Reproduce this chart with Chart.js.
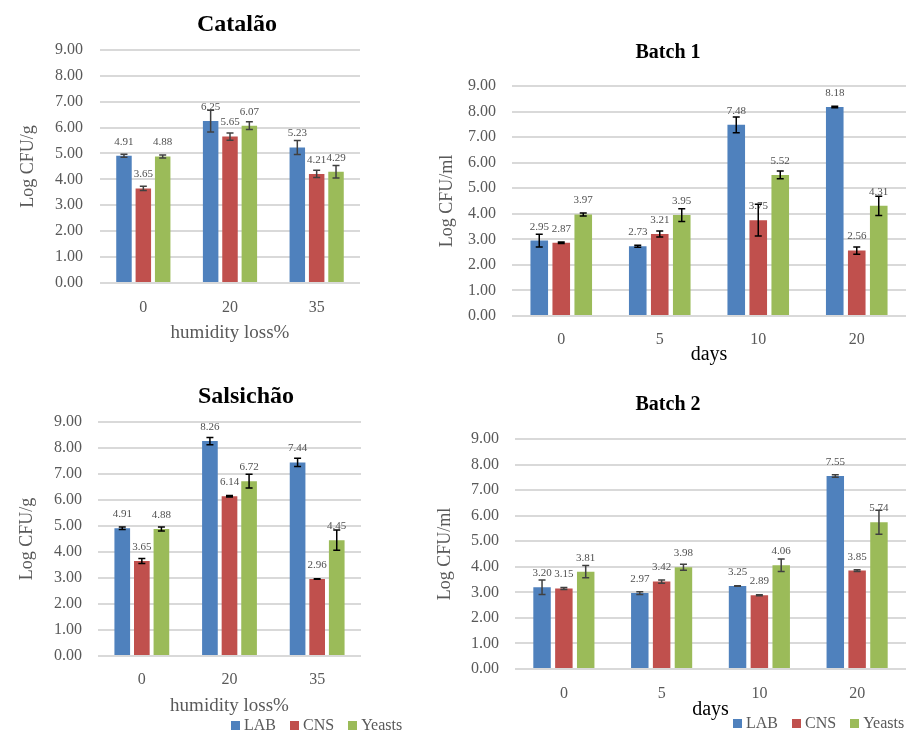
<!DOCTYPE html>
<html>
<head>
<meta charset="utf-8">
<script src="https://cdn.jsdelivr.net/npm/chart.js@4.4.0/dist/chart.umd.min.js"></script>
<style>
    html, body { margin: 0; padding: 0; background: #fff; overflow: hidden; }
    body { width: 906px; height: 731px; position: relative; }
    canvas { position: absolute; }
    .legend { position: absolute; display: flex; align-items: center; height: 16px;
              font: 16px 'Liberation Serif', serif; color: #595959; }
    .legend .item { display: flex; align-items: center; margin-right: 14px; }
    .legend .box { display: inline-block; width: 9px; height: 9px; margin-right: 4px; }
</style>
</head>
<body>
<canvas id="catalao" width="474" height="345" style="left:0;top:0"></canvas>
<canvas id="batch1" width="476" height="338" style="left:430px;top:30px"></canvas>
<canvas id="salsichao" width="492" height="358" style="left:0;top:360px"></canvas>
<canvas id="batch2" width="476" height="333" style="left:430px;top:390px"></canvas>
<div class="legend" id="legendLeft" style="left:231px;top:717px"></div>
<div class="legend" id="legendRight" style="left:733px;top:715px"></div>

<script>
// Series and categories
const seriesNames = ['LAB', 'CNS', 'Yeasts'];
const seriesColors = ['#4F81BD', '#C0504D', '#9BBB59'];
const humidityLoss = ['0', '20', '35'];
const days = ['0', '5', '10', '20'];

// Catalão (Log CFU/g)
const catalaoLab = [4.91, 6.25, 5.23];
const catalaoCns = [3.65, 5.65, 4.21];
const catalaoYeasts = [4.88, 6.07, 4.29];
const catalaoLabErr = [0.06, 0.42, 0.27];
const catalaoCnsErr = [0.08, 0.14, 0.14];
const catalaoYeastsErr = [0.06, 0.15, 0.24];

// Salsichão (Log CFU/g)
const salsichaoLab = [4.91, 8.26, 7.44];
const salsichaoCns = [3.65, 6.14, 2.96];
const salsichaoYeasts = [4.88, 6.72, 4.45];
const salsichaoLabErr = [0.05, 0.14, 0.16];
const salsichaoCnsErr = [0.1, 0.03, 0.01];
const salsichaoYeastsErr = [0.08, 0.26, 0.39];

// Batch 1 (Log CFU/ml)
const batch1Lab = [2.95, 2.73, 7.48, 8.18];
const batch1Cns = [2.87, 3.21, 3.75, 2.56];
const batch1Yeasts = [3.97, 3.95, 5.52, 4.31];
const batch1LabErr = [0.25, 0.04, 0.31, 0.03];
const batch1CnsErr = [0.03, 0.12, 0.62, 0.14];
const batch1YeastsErr = [0.06, 0.25, 0.15, 0.38];

// Batch 2 (Log CFU/ml)
const batch2Lab = [3.20, 2.97, 3.25, 7.55];
const batch2Cns = [3.15, 3.42, 2.89, 3.85];
const batch2Yeasts = [3.81, 3.98, 4.06, 5.74];
const batch2LabErr = [0.28, 0.05, 0.01, 0.05];
const batch2CnsErr = [0.04, 0.06, 0.02, 0.03];
const batch2YeastsErr = [0.24, 0.12, 0.24, 0.47];

const FONT = "'Liberation Serif', serif";
const GREY = '#595959';

// value labels above bars, then error bars on top
const errorBars = {
    id: 'errorBars',
    afterDatasetsDraw(chart, args, opts) {
        const ctx = chart.ctx;
        const yScale = chart.scales.y;
        ctx.save();
        ctx.font = '11px ' + FONT;
        ctx.fillStyle = '#505050';
        ctx.textAlign = 'center';
        ctx.textBaseline = 'middle';
        chart.data.datasets.forEach((ds, i) => {
            chart.getDatasetMeta(i).data.forEach((bar, j) => {
                ctx.fillText(ds.data[j].toFixed(2), bar.x, bar.y - 14);
            });
        });
        ctx.strokeStyle = opts.color;
        ctx.lineWidth = 1.5;
        chart.data.datasets.forEach((ds, i) => {
            chart.getDatasetMeta(i).data.forEach((bar, j) => {
                const top = yScale.getPixelForValue(ds.data[j] + ds.errors[j]);
                const bot = yScale.getPixelForValue(ds.data[j] - ds.errors[j]);
                ctx.beginPath();
                ctx.moveTo(bar.x, top); ctx.lineTo(bar.x, bot);
                ctx.moveTo(bar.x - 3.5, top); ctx.lineTo(bar.x + 3.5, top);
                ctx.moveTo(bar.x - 3.5, bot); ctx.lineTo(bar.x + 3.5, bot);
                ctx.stroke();
            });
        });
        ctx.restore();
    }
};

function barChart(id, cfg) {
    return new Chart(document.getElementById(id), {
        type: 'bar',
        data: {
            labels: cfg.labels,
            datasets: seriesNames.map((name, i) => ({
                label: name,
                data: cfg.values[i],
                errors: cfg.errors[i],
                backgroundColor: seriesColors[i],
                categoryPercentage: 0.67,
                barPercentage: 0.8
            }))
        },
        options: {
            responsive: false,
            animation: false,
            layout: { padding: 0 },
            plugins: {
                legend: { display: false },
                tooltip: { enabled: false },
                title: {
                    display: true,
                    text: cfg.title,
                    color: '#000',
                    font: { family: FONT, size: cfg.titleSize, weight: 'bold' },
                    padding: { top: cfg.titleTop, bottom: cfg.titleBottom }
                },
                errorBars: { color: cfg.errColor }
            },
            scales: {
                x: {
                    grid: { display: false },
                    border: { display: false },
                    ticks: { color: GREY, padding: cfg.xTickPad, font: { family: FONT, size: 16 } },
                    title: {
                        display: true, text: cfg.xTitle, color: cfg.xTitleColor,
                        font: { family: FONT, size: cfg.xTitleSize },
                        padding: { top: 0, bottom: 1 }
                    },
                    afterFit: s => { s.height = cfg.xHeight; }
                },
                y: {
                    min: 0,
                    max: 9,
                    grid: { color: '#d9d9d9', lineWidth: 2, drawTicks: false },
                    border: { display: false },
                    ticks: {
                        stepSize: 1, color: GREY, padding: cfg.yTickPad,
                        font: { family: FONT, size: 16 },
                        callback: v => v.toFixed(2)
                    },
                    title: {
                        display: true, text: cfg.yTitle, color: GREY,
                        font: { family: FONT, size: 18 },
                        padding: { top: cfg.yTitlePad, bottom: 0 }
                    },
                    afterFit: s => { s.width = cfg.yWidth; }
                },
                r: {
                    position: 'right',
                    display: true,
                    grid: { display: false },
                    border: { display: false },
                    ticks: { display: false },
                    afterFit: s => { s.width = cfg.rightSpace; }
                }
            }
        },
        plugins: [errorBars]
    });
}

const catalaoChart = barChart('catalao', {
    labels: humidityLoss,
    values: [catalaoLab, catalaoCns, catalaoYeasts],
    errors: [catalaoLabErr, catalaoCnsErr, catalaoYeastsErr],
    title: 'Catalão', titleSize: 24, titleTop: 10, titleBottom: 11,
    yTitle: 'Log CFU/g', yTitlePad: 17, yWidth: 100, yTickPad: 17,
    xTitle: 'humidity loss%', xTitleSize: 19, xTitleColor: GREY, xHeight: 62, xTickPad: 7,
    rightSpace: 114, errColor: '#404040'
});

const batch1Chart = barChart('batch1', {
    labels: days,
    values: [batch1Lab, batch1Cns, batch1Yeasts],
    errors: [batch1LabErr, batch1CnsErr, batch1YeastsErr],
    title: 'Batch 1', titleSize: 20, titleTop: 11, titleBottom: 21,
    yTitle: 'Log CFU/ml', yTitlePad: 6, yWidth: 82, yTickPad: 16,
    xTitle: 'days', xTitleSize: 20, xTitleColor: '#000', xHeight: 52, xTickPad: 6,
    rightSpace: 0, errColor: '#000'
});

const salsichaoChart = barChart('salsichao', {
    labels: humidityLoss,
    values: [salsichaoLab, salsichaoCns, salsichaoYeasts],
    errors: [salsichaoLabErr, salsichaoCnsErr, salsichaoYeastsErr],
    title: 'Salsichão', titleSize: 24, titleTop: 22, titleBottom: 11,
    yTitle: 'Log CFU/g', yTitlePad: 16, yWidth: 98, yTickPad: 16,
    xTitle: 'humidity loss%', xTitleSize: 19, xTitleColor: GREY, xHeight: 62, xTickPad: 6,
    rightSpace: 131, errColor: '#000'
});

const batch2Chart = barChart('batch2', {
    labels: days,
    values: [batch2Lab, batch2Cns, batch2Yeasts],
    errors: [batch2LabErr, batch2CnsErr, batch2YeastsErr],
    title: 'Batch 2', titleSize: 20, titleTop: 3, titleBottom: 22,
    yTitle: 'Log CFU/ml', yTitlePad: 4, yWidth: 85, yTickPad: 16,
    xTitle: 'days', xTitleSize: 20, xTitleColor: '#000', xHeight: 54, xTickPad: 7,
    rightSpace: 0, errColor: '#404040'
});

// HTML legends from the chart's own legend items
function buildLegend(chart, elId) {
    const el = document.getElementById(elId);
    Chart.defaults.plugins.legend.labels.generateLabels(chart).forEach(item => {
        const div = document.createElement('div');
        div.className = 'item';
        div.innerHTML = `<span class="box" style="background:${item.fillStyle}"></span>${item.text}`;
        el.appendChild(div);
    });
}
buildLegend(salsichaoChart, 'legendLeft');
buildLegend(batch2Chart, 'legendRight');
</script>
</body>
</html>
